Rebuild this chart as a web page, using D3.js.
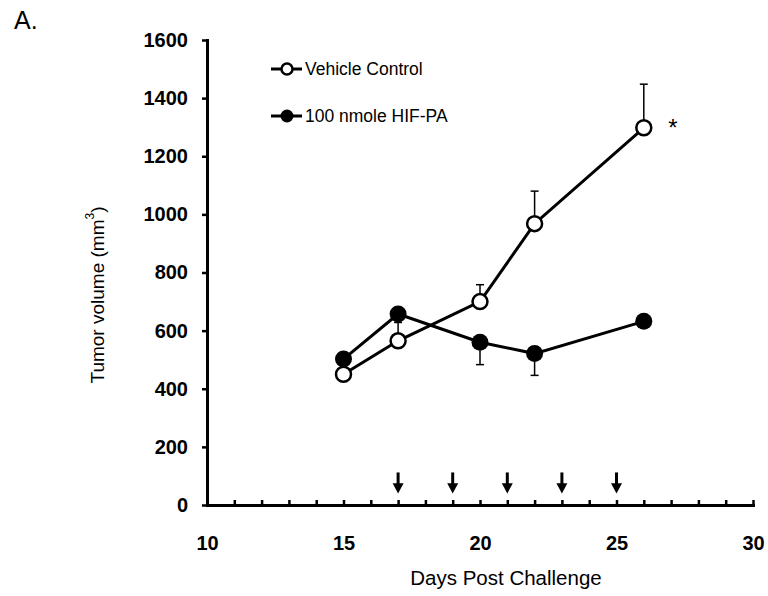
<!DOCTYPE html>
<html>
<head>
<meta charset="utf-8">
<script src="https://cdn.jsdelivr.net/npm/d3@7"></script>
<style>
	body { margin: 0; background: #fff; }
	svg { display: block; font-family: "Liberation Sans", Arial, sans-serif; }
	.axis path, .axis line { stroke: #000; }
	.axis text { font-weight: bold; font-size: 20px; fill: #000; }
</style>
</head>
<body>
<script>
	// values
	var days         = [15, 17, 20, 22, 26];
	var vehicle      = [450, 565, 700, 968, 1298];
	var vehicleErr   = [0, 63, 58, 112, 150];
	var hifpa        = [502, 657, 560, 521, 632];
	var hifpaErr     = [0, 0, 77, 75, 0];
	var dosingDays   = [17, 19, 21, 23, 25];
	var yTicks       = [0, 200, 400, 600, 800, 1000, 1200, 1400, 1600];
	var xTicks       = d3.range(10, 31);
	var seriesNames  = ["Vehicle Control", "100 nmole HIF-PA"];

	var width = 768, height = 596;

	var svg = d3.select("body").append("svg")
		.attr("width", width)
		.attr("height", height);

	var x = d3.scaleLinear().domain([10, 30]).range([207, 753]);
	var y = d3.scaleLinear().domain([0, 1600]).range([505, 40]);

	// panel letter
	svg.append("text")
		.attr("x", 14).attr("y", 29)
		.style("font-size", "25px")
		.text("A.");

	//////////////////////////// Axes ////////////////////////////

	var yAxis = d3.axisLeft(y)
		.tickValues(yTicks)
		.tickSize(5)
		.tickSizeOuter(0)
		.tickPadding(14)
		.tickFormat(d3.format("d"));

	svg.append("g")
		.attr("class", "axis")
		.attr("transform", "translate(" + x(10) + ",0)")
		.call(yAxis)
		.call(g => g.select(".domain").attr("stroke-width", 3).attr("stroke-linecap", "square"))
		.call(g => g.selectAll(".tick line").attr("stroke-width", 2.5));

	var xAxis = d3.axisBottom(x)
		.tickValues(xTicks)
		.tickSize(-5)
		.tickSizeOuter(0)
		.tickPadding(31)
		.tickFormat(d => d % 5 === 0 ? d : "");

	svg.append("g")
		.attr("class", "axis")
		.attr("transform", "translate(0," + y(0) + ")")
		.call(xAxis)
		.call(g => g.select(".domain").attr("stroke-width", 3).attr("stroke-linecap", "square"))
		.call(g => g.selectAll(".tick line").attr("stroke-width", 2.5));

	// axis titles
	svg.append("text")
		.attr("transform", "translate(97," + 295 + ")rotate(-90)")
		.attr("text-anchor", "middle")
		.attr("dominant-baseline", "central")
		.style("font-size", "19px")
		.html('Tumor volume (mm<tspan dy="-7" font-size="12px">3</tspan><tspan dy="7">)</tspan>');

	svg.append("text")
		.attr("x", 506).attr("y", 585)
		.attr("text-anchor", "middle")
		.style("font-size", "20.5px")
		.text("Days Post Challenge");

	//////////////////////////// Dosing arrows ////////////////////////////

	var arrows = svg.append("g");
	dosingDays.forEach(function(d) {
		arrows.append("line")
			.attr("x1", x(d)).attr("x2", x(d))
			.attr("y1", y(112)).attr("y2", y(60))
			.attr("stroke", "#000").attr("stroke-width", 3);
		arrows.append("path")
			.attr("d", "M" + (x(d) - 5.5) + "," + y(75) + "L" + (x(d) + 5.5) + "," + y(75) + "L" + x(d) + "," + y(40) + "Z")
			.attr("fill", "#000");
	});

	//////////////////////////// Series ////////////////////////////

	var line = d3.line().x(d => x(d[0])).y(d => y(d[1]));
	var vehData = days.map((d, i) => [d, vehicle[i], vehicleErr[i]]);
	var hifData = days.map((d, i) => [d, hifpa[i], hifpaErr[i]]);

	// error bars: vehicle upward, HIF-PA downward
	function errorBars(data, dir) {
		var g = svg.append("g").attr("stroke", "#000").attr("stroke-width", 1.5);
		data.filter(d => d[2] > 0).forEach(function(d) {
			var yEnd = y(d[1] + dir * d[2]);
			g.append("line").attr("x1", x(d[0])).attr("x2", x(d[0]))
				.attr("y1", y(d[1])).attr("y2", yEnd);
			g.append("line").attr("x1", x(d[0]) - 4).attr("x2", x(d[0]) + 4)
				.attr("y1", yEnd).attr("y2", yEnd);
		});
	}
	errorBars(vehData, 1);
	errorBars(hifData, -1);

	svg.append("path").datum(vehData).attr("d", line)
		.attr("fill", "none").attr("stroke", "#000").attr("stroke-width", 3);
	svg.append("path").datum(hifData).attr("d", line)
		.attr("fill", "none").attr("stroke", "#000").attr("stroke-width", 3);

	svg.selectAll(".hifdot").data(hifData).enter().append("circle")
		.attr("cx", d => x(d[0])).attr("cy", d => y(d[1])).attr("r", 8.5)
		.attr("fill", "#000");
	svg.selectAll(".vehdot").data(vehData).enter().append("circle")
		.attr("cx", d => x(d[0])).attr("cy", d => y(d[1])).attr("r", 7.5)
		.attr("fill", "#fff").attr("stroke", "#000").attr("stroke-width", 2.5);

	// significance mark
	svg.append("text")
		.attr("x", x(26) + 29).attr("y", y(vehicle[4]) + 8)
		.attr("text-anchor", "middle")
		.style("font-size", "24px")
		.text("*");

	//////////////////////////// Legend ////////////////////////////

	var legend = svg.append("g").attr("transform", "translate(271,69)");
	seriesNames.forEach(function(name, i) {
		var row = legend.append("g").attr("transform", "translate(0," + (i * 47) + ")");
		row.append("line").attr("x1", 0).attr("x2", 31)
			.attr("stroke", "#000").attr("stroke-width", 3);
		row.append("circle").attr("cx", 16).attr("r", i === 0 ? 5.5 : 6.5)
			.attr("fill", i === 0 ? "#fff" : "#000")
			.attr("stroke", "#000").attr("stroke-width", i === 0 ? 2.5 : 0);
		row.append("text").attr("x", 34).attr("dominant-baseline", "central")
			.style("font-size", "17.5px")
			.text(name);
	});
</script>
</body>
</html>
